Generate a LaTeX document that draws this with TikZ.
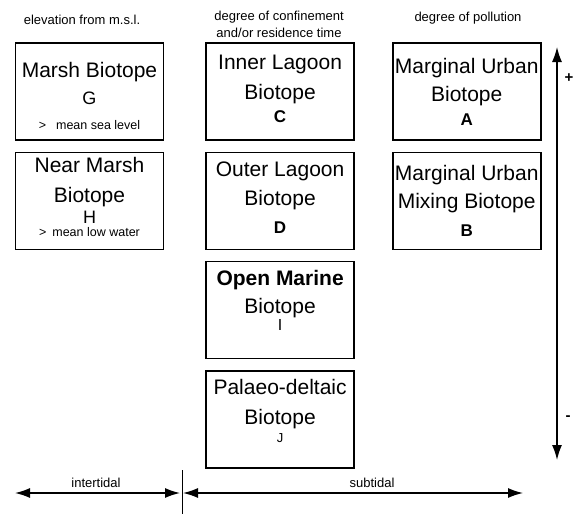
\documentclass[tikz,border=0pt]{standalone}
\usepackage{fontspec}
\setmainfont{Liberation Sans}
\usetikzlibrary{arrows.meta,positioning}
\newcommand{\upstrut}[1]{\rule{0pt}{#1}}
\newcommand{\downstrut}[1]{\rule[-#1]{0pt}{#1}}
\newcommand{\biocode}[1]{{\fontsize{17}{20}\selectfont\bfseries #1}}
\newcommand{\notefont}{\fontsize{12.5}{15}\selectfont}

\begin{document}
\begin{tikzpicture}[
  x=1pt, y=-1pt,
  node distance=10.7pt and 41pt,
  biobox/.style={draw=black, line width=1.6pt, minimum width=148pt, minimum height=97pt, inner sep=0pt, align=center, font=\fontsize{21}{28}\selectfont},
  head/.style={font=\fontsize{13}{17}\selectfont, align=center, inner sep=0pt},
  sign/.style={font=\fontsize{15}{15}\selectfont\bfseries, inner sep=0pt},
  twoway/.style={{Latex[length=15pt,width=10pt]}-{Latex[length=15pt,width=10pt]}, line width=1.4pt}
]
\useasboundingbox (0,0) rectangle (575,514);
% column headings
\node[head] (elev) at (82,20) {elevation from m.s.l.};
\node[head] (confine) at (279,24.5) {degree of confinement\\and/or residence time};
\node[head] (pollut) at (468,18) {degree of pollution};
% elevation column
\node[biobox] (marsh) at (89.5,91.5) {\upstrut{24pt}Marsh Biotope\\[-0.5pt]{\fontsize{18}{20}\selectfont G}\\[-3.5pt]{\notefont >\hspace{10pt}mean sea level}};
\node[biobox, below=of marsh] (nearmarsh) {Near Marsh\\[2pt]Biotope\\[-7pt]{\fontsize{18}{20}\selectfont H}\\[-15.5pt]{\notefont >\hspace{6pt}mean low water}\downstrut{7.5pt}};
% confinement column
\node[biobox, right=of marsh] (innerlag) {Inner Lagoon\\[2pt]Biotope\\[-5pt]\biocode{C}\downstrut{4.5pt}};
\node[biobox, below=of innerlag] (outerlag) {Outer Lagoon\\[1pt]Biotope\\\biocode{D}\downstrut{6.5pt}};
\node[biobox, below=of outerlag] (openmar) {\textbf{Open Marine}\\Biotope\\[-11pt]{\fontsize{16}{18}\selectfont I}\downstrut{19.5pt}};
\node[biobox, below=of openmar] (palaeo) {Palaeo-deltaic\\[2pt]Biotope\\[-10.5pt]{\fontsize{13}{15}\selectfont J}\downstrut{17.5pt}};
% pollution column
\node[biobox, right=37pt of innerlag] (urban) {Marginal Urban\\Biotope\\[-4pt]\biocode{A}};
\node[biobox, below=of urban] (urbanmix) {Marginal Urban\\Mixing Biotope\\\biocode{B}};
% gradient axis
\coordinate (axtop) at (557,47);
\coordinate (axbot) at (557,460);
\draw[twoway] (axtop) -- (axbot);
\node[sign] (plus) at (569,78) {+};
\node[sign] (minus) at (568,418) {-};
% tidal zones
\coordinate (tidl) at (15,493);
\coordinate (tidm) at (182,493);
\coordinate (tidr) at (523,493);
\coordinate (divtop) at (182,470);
\coordinate (divbot) at (182,514);
\draw[line width=1pt] (divtop) -- (divbot);
\draw[twoway, shorten >=2pt] (tidl) -- (tidm);
\draw[twoway, shorten <=1pt] (tidm) -- (tidr);
\node[head] (inter) at (96,483) {intertidal};
\node[head] (sub) at (372,483) {subtidal};
\end{tikzpicture}
\end{document}
